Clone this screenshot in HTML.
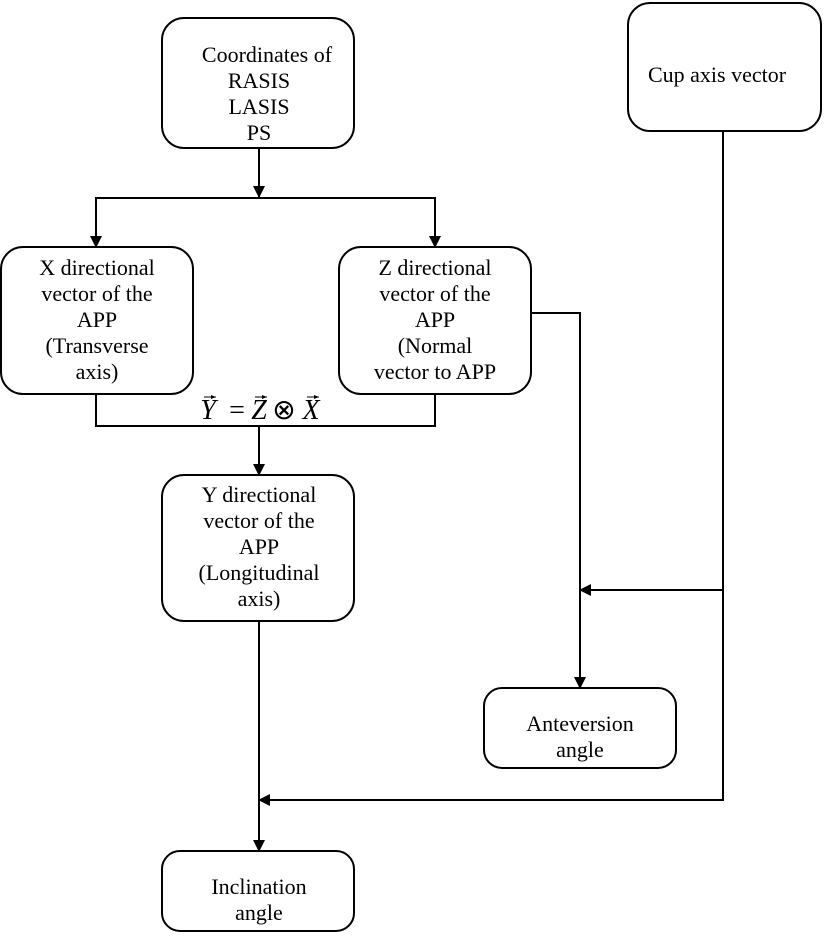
<!DOCTYPE html>
<html><head><meta charset="utf-8"><style>
html,body{margin:0;padding:0;background:#fff}
svg{display:block}
text{font-family:"Liberation Serif",serif;font-size:22px;fill:#000;text-anchor:middle}
.f{font-size:28px}
</style></head><body>
<svg width="827" height="936" viewBox="0 0 827 936" xmlns="http://www.w3.org/2000/svg">
<defs><marker id="a" markerWidth="12" markerHeight="12" refX="11" refY="6" orient="auto" markerUnits="userSpaceOnUse"><path d="M0,0 L12,6 L0,12 z" fill="#000"/></marker>
<marker id="s" markerWidth="5" markerHeight="4" refX="5" refY="2" orient="auto" markerUnits="userSpaceOnUse"><path d="M0,0 L5,2 L0,4 z" fill="#000"/></marker></defs>
<g fill="none" stroke="#000" stroke-width="2">
<rect x="162" y="18" width="192" height="130" rx="22"/>
<rect x="628" y="3" width="193" height="128" rx="22"/>
<rect x="1" y="247" width="192" height="147" rx="22"/>
<rect x="339" y="247" width="192" height="147" rx="22"/>
<rect x="162" y="475" width="192" height="146" rx="22"/>
<rect x="484" y="688" width="192" height="80" rx="18"/>
<rect x="162" y="851" width="192" height="80" rx="18"/>
<line x1="259" y1="148" x2="259" y2="197" marker-end="url(#a)"/>
<polyline points="96,247 96,198 435,198 435,247"/>
<line x1="96" y1="199" x2="96" y2="247" marker-end="url(#a)"/>
<line x1="435" y1="199" x2="435" y2="247" marker-end="url(#a)"/>
<polyline points="96,394 96,426 435,426 435,394"/>
<line x1="259" y1="426" x2="259" y2="475" marker-end="url(#a)"/>
<polyline points="531,313 580,313 580,688"/>
<line x1="580" y1="400" x2="580" y2="688" marker-end="url(#a)"/>
<line x1="723" y1="131" x2="723" y2="801"/>
<line x1="723" y1="590" x2="580" y2="590" marker-end="url(#a)"/>
<polyline points="723,800 259,800"/>
<line x1="600" y1="800" x2="259" y2="800" marker-end="url(#a)"/>
<line x1="259" y1="621" x2="259" y2="851" marker-end="url(#a)"/>
</g>
<text x="267" y="62">Coordinates of</text>
<text x="259" y="88">RASIS</text>
<text x="259" y="114">LASIS</text>
<text x="259" y="140">PS</text>
<text x="717" y="82">Cup axis vector</text>
<text x="97" y="275">X directional</text>
<text x="97" y="301">vector of the</text>
<text x="97" y="327">APP</text>
<text x="97" y="353">(Transverse</text>
<text x="97" y="379">axis)</text>
<text x="435" y="275">Z directional</text>
<text x="435" y="301">vector of the</text>
<text x="435" y="327">APP</text>
<text x="435" y="353">(Normal</text>
<text x="435" y="379">vector to APP</text>
<text class="f" x="208" y="419" style="font-style:italic">Y</text>
<text class="f" x="237" y="419">=</text>
<text class="f" x="259" y="419" style="font-style:italic">Z</text>
<text class="f" x="284" y="419">⊗</text>
<text class="f" x="311" y="419" style="font-style:italic">X</text>
<g stroke="#000" stroke-width="1"><line x1="204" y1="397" x2="216" y2="397" marker-end="url(#s)"/><line x1="255" y1="397" x2="267" y2="397" marker-end="url(#s)"/><line x1="307" y1="397" x2="319" y2="397" marker-end="url(#s)"/></g>
<text x="259" y="502">Y directional</text>
<text x="259" y="528">vector of the</text>
<text x="259" y="554">APP</text>
<text x="259" y="580">(Longitudinal</text>
<text x="259" y="606">axis)</text>
<text x="580" y="731">Anteversion</text>
<text x="580" y="757">angle</text>
<text x="259" y="894">Inclination</text>
<text x="259" y="920">angle</text>
</svg>
</body></html>
